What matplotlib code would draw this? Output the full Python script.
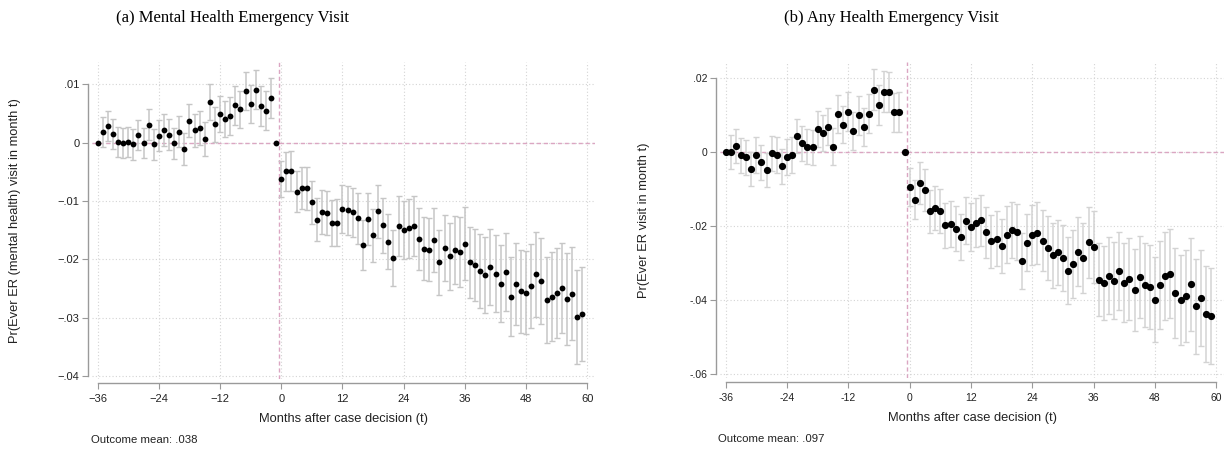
import numpy as np
import matplotlib.pyplot as plt

# event time: months relative to the case decision
months = np.arange(-36, 60)

# (a) mental health ER visits: point estimates and 95% CI half-widths
mh_est = [
    0.0, 0.0018, 0.0029, 0.0015, 0.0001, 0.0000, 0.0001, -0.0003, 0.0013, 0.0000,
    0.0031, -0.0003, 0.0012, 0.0022, 0.0014, -0.0001, 0.0019, -0.0011, 0.0038, 0.0021,
    0.0025, 0.0006, 0.0070, 0.0032, 0.0049, 0.0041, 0.0046, 0.0064, 0.0057, 0.0089,
    0.0066, 0.0091, 0.0063, 0.0055, 0.0077, 0.0,
    -0.0063, -0.0049, -0.0049, -0.0084, -0.0078, -0.0078, -0.0102, -0.0132, -0.0119, -0.0121,
    -0.0138, -0.0137, -0.0114, -0.0116, -0.0119, -0.0130, -0.0176, -0.0131, -0.0159, -0.0118,
    -0.0142, -0.0170, -0.0198, -0.0143, -0.0150, -0.0147, -0.0143, -0.0165, -0.0182, -0.0184,
    -0.0167, -0.0205, -0.0181, -0.0195, -0.0184, -0.0187, -0.0173, -0.0205, -0.0210, -0.0220,
    -0.0227, -0.0213, -0.0225, -0.0242, -0.0222, -0.0264, -0.0242, -0.0255, -0.0257, -0.0245,
    -0.0226, -0.0237, -0.0270, -0.0264, -0.0258, -0.0249, -0.0268, -0.0259, -0.0299, -0.0294,
]
mh_ci = [
    0.0, 0.0026, 0.0026, 0.0026, 0.0026, 0.0026, 0.0026, 0.0026, 0.0026, 0.0026,
    0.0027, 0.0026, 0.0027, 0.0027, 0.0027, 0.0027, 0.0027, 0.0027, 0.0028, 0.0029,
    0.0029, 0.0029, 0.0031, 0.0030, 0.0031, 0.0031, 0.0032, 0.0033, 0.0032, 0.0033,
    0.0033, 0.0034, 0.0034, 0.0034, 0.0034, 0.0,
    0.0031, 0.0033, 0.0034, 0.0035, 0.0036, 0.0037, 0.0037, 0.0037, 0.0038, 0.0038,
    0.0039, 0.0040, 0.0041, 0.0042, 0.0042, 0.0043, 0.0043, 0.0044, 0.0045, 0.0046,
    0.0047, 0.0047, 0.0048, 0.0051, 0.0050, 0.0051, 0.0052, 0.0053, 0.0054, 0.0054,
    0.0055, 0.0056, 0.0057, 0.0057, 0.0059, 0.0060, 0.0062, 0.0061, 0.0062, 0.0064,
    0.0065, 0.0065, 0.0066, 0.0066, 0.0067, 0.0068, 0.0070, 0.0071, 0.0071, 0.0072,
    0.0073, 0.0074, 0.0074, 0.0076, 0.0077, 0.0077, 0.0079, 0.0080, 0.0081, 0.0081,
]

# (b) any ER visits
any_est = [
    0.0, 0.0001, 0.0016, -0.0009, -0.0015, -0.0046, -0.0009, -0.0028, -0.0049, -0.0004,
    -0.0009, -0.0039, -0.0014, -0.0009, 0.0043, 0.0023, 0.0014, 0.0012, 0.0061, 0.0052,
    0.0068, 0.0014, 0.0102, 0.0073, 0.0109, 0.0057, 0.0099, 0.0068, 0.0103, 0.0168,
    0.0126, 0.0163, 0.0162, 0.0107, 0.0107, 0.0,
    -0.0095, -0.0129, -0.0085, -0.0104, -0.0161, -0.0151, -0.0159, -0.0198, -0.0195, -0.0207,
    -0.0230, -0.0186, -0.0203, -0.0191, -0.0185, -0.0217, -0.0242, -0.0234, -0.0255, -0.0224,
    -0.0211, -0.0217, -0.0294, -0.0245, -0.0225, -0.0219, -0.0240, -0.0260, -0.0279, -0.0271,
    -0.0286, -0.0321, -0.0303, -0.0270, -0.0286, -0.0244, -0.0257, -0.0345, -0.0355, -0.0334,
    -0.0348, -0.0321, -0.0353, -0.0343, -0.0373, -0.0337, -0.0359, -0.0365, -0.0399, -0.0360,
    -0.0335, -0.0329, -0.0382, -0.0400, -0.0389, -0.0358, -0.0417, -0.0394, -0.0438, -0.0444,
]
any_ci = [
    0.0, 0.0046, 0.0047, 0.0047, 0.0047, 0.0047, 0.0048, 0.0048, 0.0047, 0.0047,
    0.0048, 0.0048, 0.0049, 0.0048, 0.0047, 0.0047, 0.0048, 0.0048, 0.0049, 0.0049,
    0.0050, 0.0050, 0.0051, 0.0050, 0.0052, 0.0051, 0.0052, 0.0052, 0.0053, 0.0055,
    0.0054, 0.0055, 0.0055, 0.0053, 0.0054, 0.0,
    0.0052, 0.0053, 0.0057, 0.0057, 0.0058, 0.0060, 0.0059, 0.0061, 0.0063, 0.0061,
    0.0063, 0.0064, 0.0066, 0.0067, 0.0069, 0.0069, 0.0071, 0.0073, 0.0073, 0.0077,
    0.0076, 0.0076, 0.0076, 0.0077, 0.0081, 0.0084, 0.0083, 0.0086, 0.0088, 0.0088,
    0.0089, 0.0090, 0.0091, 0.0093, 0.0095, 0.0096, 0.0097, 0.0099, 0.0100, 0.0103,
    0.0104, 0.0105, 0.0106, 0.0110, 0.0110, 0.0111, 0.0113, 0.0114, 0.0115, 0.0118,
    0.0119, 0.0121, 0.0121, 0.0122, 0.0125, 0.0126, 0.0128, 0.0130, 0.0131, 0.0130,
]

month_ticks = [-36, -24, -12, 0, 12, 24, 36, 48, 60]
mh_xlabels = ["\u221236", "\u221224", "\u221212", "0", "12", "24", "36", "48", "60"]
any_xlabels = ["-36", "-24", "-12", "0", "12", "24", "36", "48", "60"]

mh_yticks = [-0.04, -0.03, -0.02, -0.01, 0.0, 0.01]
mh_ylabels = ["\u2212.04", "\u2212.03", "\u2212.02", "\u2212.01", "0", ".01"]
any_yticks = [-0.06, -0.04, -0.02, 0.0, 0.02]
any_ylabels = ["-.06", "-.04", "-.02", "0", ".02"]

plt.rcParams["font.family"] = ["Liberation Sans", "DejaVu Sans"]

GRID = "#d4d4d4"
ZERO = "#dba6c2"
SPINE = "#9a9a9a"


def draw_panel(ax, est, ci, ylim, yticks, ylabels, xlabels, ylabel, ms, tick_fs,
               bar_color, ylabel_x):
    est = np.asarray(est)
    ci = np.asarray(ci)
    has_ci = ci > 0

    ax.set_xlim(-37.1, 61.5)
    ax.set_ylim(*ylim)

    for t in month_ticks:
        ax.axvline(t, color=GRID, lw=0.8, ls=(0, (1, 2)), zorder=0)
    for y in yticks:
        ax.axhline(y, color=GRID, lw=0.8, ls=(0, (1, 2)), zorder=0)

    # reference lines at zero effect and at the decision month
    ax.axhline(0, color=ZERO, lw=1.0, ls=(0, (3, 2)), zorder=1)
    ax.axvline(-0.5, color=ZERO, lw=1.0, ls=(0, (3, 2)), zorder=1)

    ax.errorbar(months[has_ci], est[has_ci], yerr=ci[has_ci], fmt="none",
                ecolor=bar_color, elinewidth=1.1, capsize=1.9, capthick=1.0, zorder=2)
    ax.plot(months, est, "o", color="black", ms=ms, mew=0, zorder=3)

    ax.set_xticks(month_ticks)
    ax.set_xticklabels(xlabels)
    ax.set_yticks(yticks)
    ax.set_yticklabels(ylabels)
    ax.tick_params(length=4.3, width=0.8, color=SPINE, labelsize=tick_fs,
                   labelcolor="#222222")
    ax.tick_params(axis="x", pad=3.5)
    ax.tick_params(axis="y", pad=2)

    for side in ("top", "right"):
        ax.spines[side].set_visible(False)
    ax.spines["left"].set_position(("outward", 2.7))
    ax.spines["bottom"].set_position(("outward", 3.0))
    ax.spines["left"].set_bounds(yticks[0], yticks[-1])
    ax.spines["bottom"].set_bounds(month_ticks[0], month_ticks[-1])
    for side in ("left", "bottom"):
        ax.spines[side].set_color(SPINE)
        ax.spines[side].set_linewidth(1.0)

    ax.set_xlabel("Months after case decision (t)", fontsize=9.3, color="#222222",
                  labelpad=6.5)
    ax.set_ylabel(ylabel, fontsize=9.3, color="#222222")
    ax.yaxis.set_label_coords(ylabel_x, 0.5)


fig = plt.figure(figsize=(12.25, 4.49), dpi=100)
W, H = 1225, 449

ax_a = fig.add_axes([92 / W, 1 - 379 / H, 503 / W, 317 / H])
draw_panel(ax_a, mh_est, mh_ci, (-0.04053, 0.01384), mh_yticks, mh_ylabels, mh_xlabels,
           "Pr(Ever ER (mental health) visit in month t)", 4.2, 8, "#c6c6c6", -0.142)

ax_b = fig.add_axes([720 / W, 1 - 378 / H, 504 / W, 316 / H])
draw_panel(ax_b, any_est, any_ci, (-0.0611, 0.0243), any_yticks, any_ylabels, any_xlabels,
           "Pr(Ever ER visit in month t)", 5.2, 7.5, "#d3d3d3", -0.139)

fig.text(233 / W, 1 - 18 / H, "(a) Mental Health Emergency Visit", ha="center", va="center",
         fontsize=12, family=["Liberation Serif", "DejaVu Serif"])
fig.text(891 / W, 1 - 18 / H, "(b) Any Health Emergency Visit", ha="center", va="center",
         fontsize=12, family=["Liberation Serif", "DejaVu Serif"])

fig.text(91 / W, 1 - 440 / H, "Outcome mean: .038", ha="left", va="center", fontsize=8.2,
         color="#222222")
fig.text(718 / W, 1 - 439 / H, "Outcome mean: .097", ha="left", va="center", fontsize=8.2,
         color="#222222")

fig.savefig("out.png", dpi=100)
